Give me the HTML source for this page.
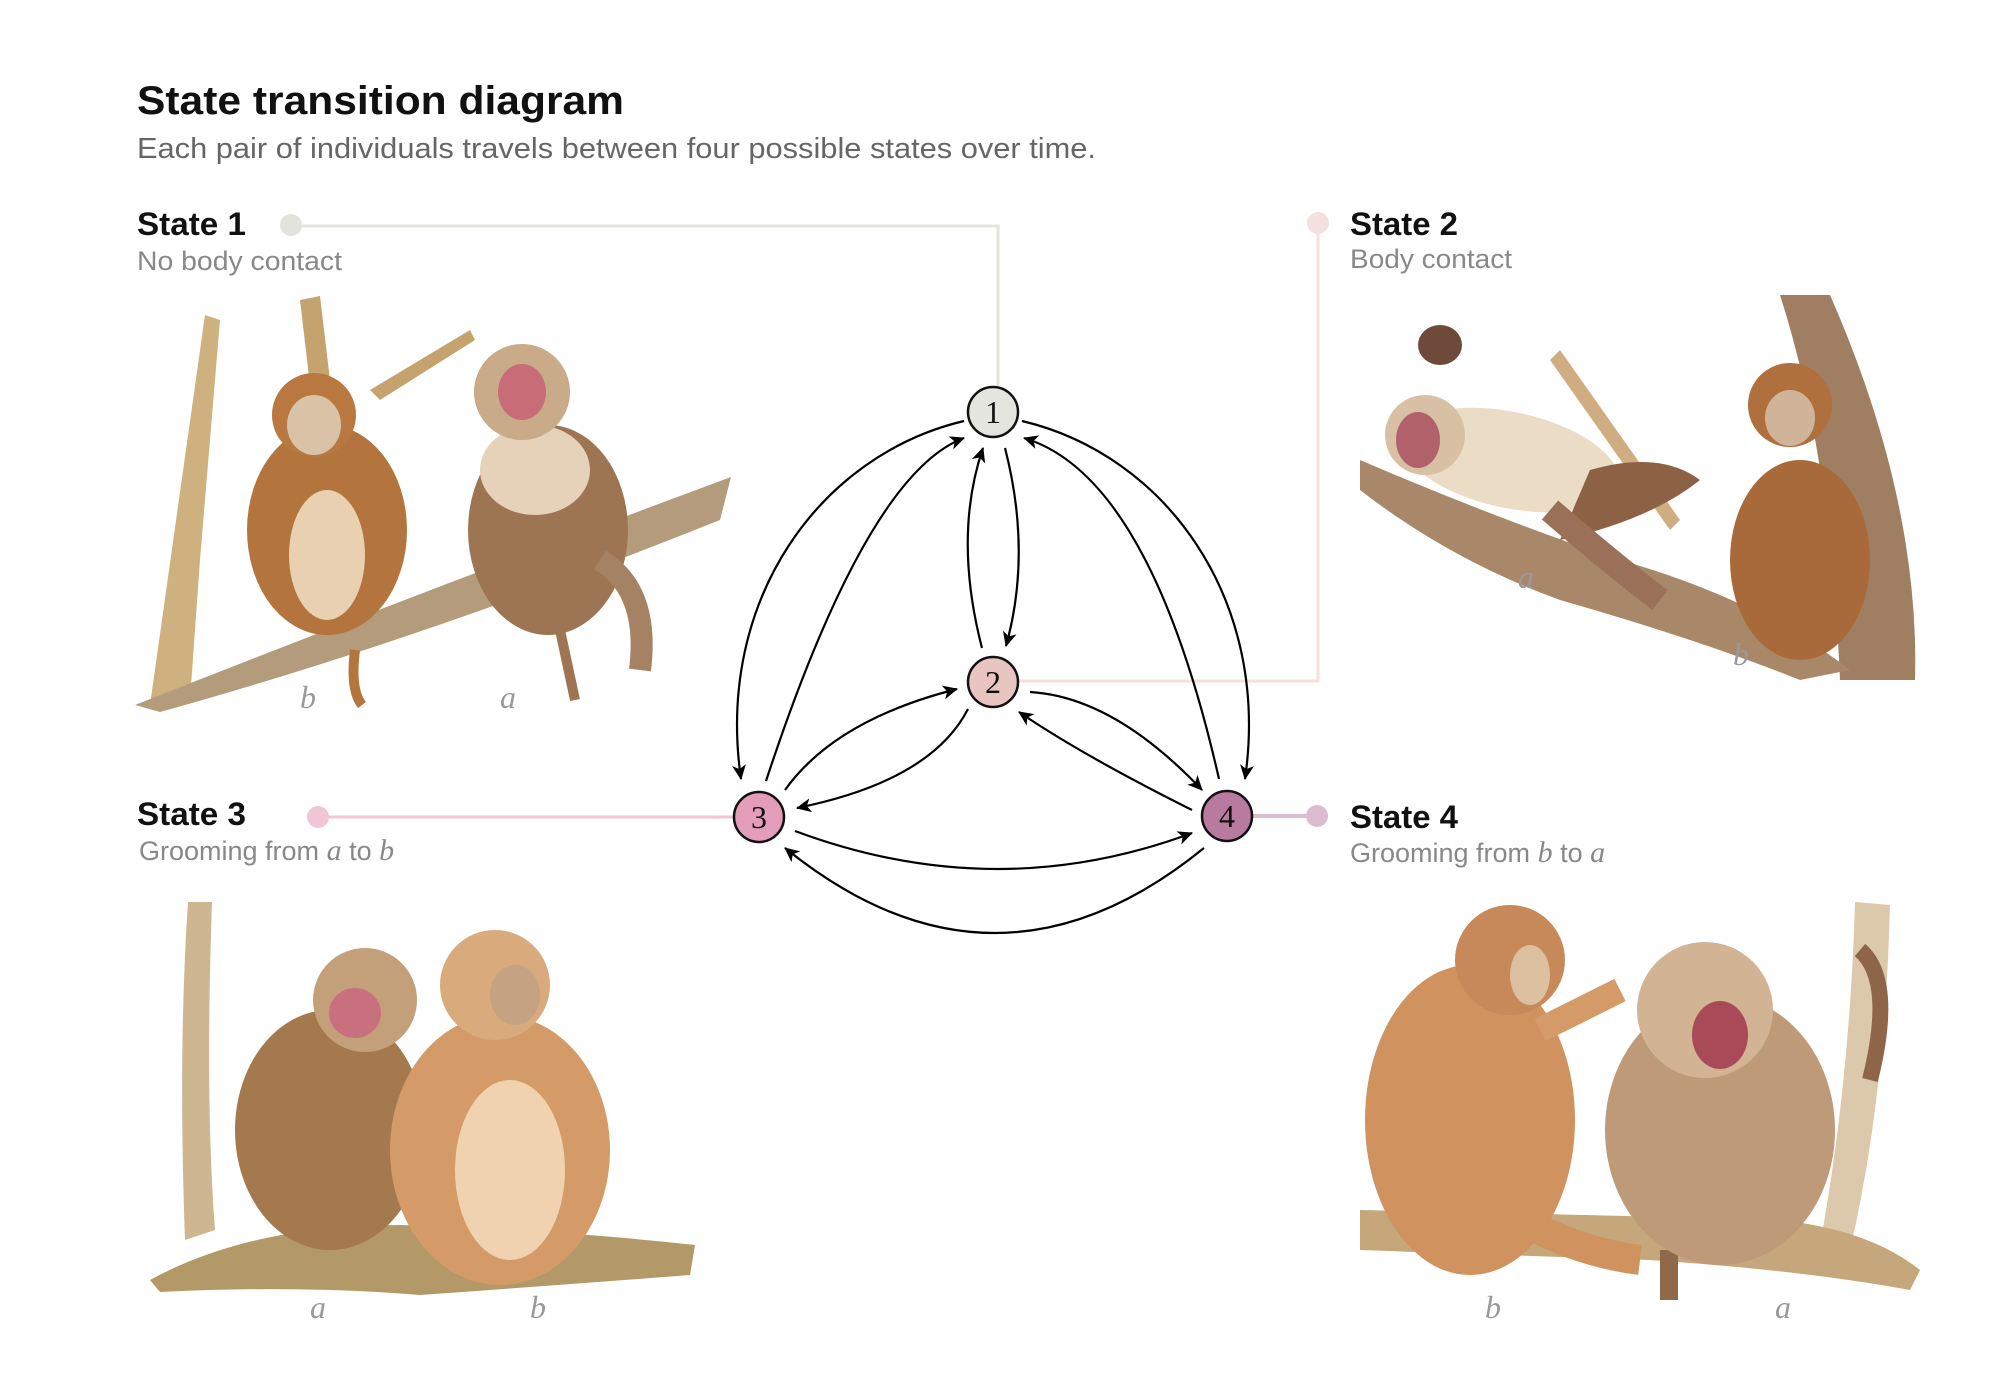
<!DOCTYPE html>
<html><head><meta charset="utf-8"><style>
html,body{margin:0;padding:0;background:#fff;}
svg{display:block;}
.t{font-family:"Liberation Sans",sans-serif;}
</style></head><body>
<svg width="2000" height="1387" viewBox="0 0 2000 1387" xmlns="http://www.w3.org/2000/svg">
<defs>
<marker id="ar" markerUnits="userSpaceOnUse" markerWidth="20" markerHeight="16" refX="14" refY="7" orient="auto">
<path d="M0,0 L15,7 L0,14 L4,7 z" fill="#000"/>
</marker>
</defs>
<rect width="2000" height="1387" fill="#fff"/>

<text class="t" x="137" y="114" font-size="40" font-weight="bold" fill="#111" textLength="487" lengthAdjust="spacingAndGlyphs">State transition diagram</text>
<text class="t" x="137" y="158" font-size="29" fill="#666" textLength="959" lengthAdjust="spacingAndGlyphs">Each pair of individuals travels between four possible states over time.</text>

<text class="t" x="137" y="235" font-size="32" font-weight="bold" fill="#111" textLength="109" lengthAdjust="spacingAndGlyphs">State 1</text>
<text class="t" x="137" y="270" font-size="27" fill="#888" textLength="205" lengthAdjust="spacingAndGlyphs">No body contact</text>
<text class="t" x="1350" y="235" font-size="32" font-weight="bold" fill="#111" textLength="108" lengthAdjust="spacingAndGlyphs">State 2</text>
<text class="t" x="1350" y="268" font-size="27" fill="#888" textLength="162" lengthAdjust="spacingAndGlyphs">Body contact</text>
<text class="t" x="137" y="825" font-size="32" font-weight="bold" fill="#111" textLength="109" lengthAdjust="spacingAndGlyphs">State 3</text>
<text class="t" x="139" y="860" font-size="27" fill="#888">Grooming from <tspan font-family="Liberation Serif,serif" font-style="italic" font-size="30">a</tspan> to <tspan font-family="Liberation Serif,serif" font-style="italic" font-size="30">b</tspan></text>
<text class="t" x="1350" y="828" font-size="32" font-weight="bold" fill="#111" textLength="108" lengthAdjust="spacingAndGlyphs">State 4</text>
<text class="t" x="1350" y="862" font-size="27" fill="#888">Grooming from <tspan font-family="Liberation Serif,serif" font-style="italic" font-size="30">b</tspan> to <tspan font-family="Liberation Serif,serif" font-style="italic" font-size="30">a</tspan></text>

<polyline points="291,226 998,226 998,386" fill="none" stroke="#e3e3dd" stroke-width="3"/>
<circle cx="291" cy="225" r="11" fill="#e3e3dd"/>
<polyline points="1318,223 1318,681 1019,681" fill="none" stroke="#f4e0df" stroke-width="3"/>
<circle cx="1318" cy="223" r="11" fill="#f4e0df"/>
<line x1="318" y1="817" x2="735" y2="817" stroke="#f0c6d6" stroke-width="3"/>
<circle cx="318" cy="817" r="11" fill="#f0c6d6"/>
<line x1="1253" y1="816" x2="1317" y2="816" stroke="#dcbcd0" stroke-width="4"/>
<circle cx="1317" cy="816" r="11" fill="#dcbcd0"/>

<g>
<path d="M205,315 L220,320 L200,560 L190,700 L150,705 Z" fill="#c9a870" opacity="0.9"/>
<path d="M135,705 Q400,600 731,477 L720,520 Q420,640 160,712 Z" fill="#b39b7c"/>
<path d="M300,300 L320,296 L330,380 L310,385 Z" fill="#c5a36e"/>
<path d="M370,390 L470,330 L475,340 L380,400 Z" fill="#c5a36e"/>
<ellipse cx="327" cy="530" rx="80" ry="105" fill="#b3743e"/>
<ellipse cx="327" cy="555" rx="38" ry="65" fill="#e9d0b0"/>
<circle cx="314" cy="415" r="42" fill="#b8783f"/>
<ellipse cx="314" cy="425" rx="27" ry="30" fill="#d9c2a6"/>
<path d="M355,650 Q350,690 362,705" stroke="#b5763e" stroke-width="10" fill="none"/>
<ellipse cx="548" cy="530" rx="80" ry="105" fill="#9d7552"/>
<ellipse cx="535" cy="470" rx="55" ry="45" fill="#e6d2b8"/>
<circle cx="522" cy="392" r="48" fill="#c9ab8a"/>
<ellipse cx="522" cy="392" rx="24" ry="28" fill="#c86d78"/>
<path d="M600,560 Q650,590 640,670" stroke="#a68264" stroke-width="22" fill="none"/>
<path d="M560,630 L575,700" stroke="#9d7552" stroke-width="10"/>
<text x="300" y="708" font-family="Liberation Serif,serif" font-style="italic" font-size="32" fill="#999">b</text>
<text x="500" y="708" font-family="Liberation Serif,serif" font-style="italic" font-size="32" fill="#999">a</text>
</g>

<g>
<path d="M1780,295 L1830,295 Q1920,500 1915,680 L1840,680 Q1830,450 1780,295 Z" fill="#a07e62"/>
<path d="M1360,460 Q1500,520 1620,560 Q1760,600 1850,670 L1800,680 Q1700,640 1560,600 Q1450,560 1360,490 Z" fill="#a88868"/>
<path d="M1560,350 L1680,520 L1670,530 L1550,360 Z" fill="#d0ad80"/>
<ellipse cx="1510" cy="460" rx="110" ry="48" fill="#ebdcc6" transform="rotate(12 1510 460)"/>
<path d="M1590,470 Q1660,450 1700,480 Q1650,520 1560,540 Z" fill="#8d6244"/>
<path d="M1550,510 Q1620,570 1660,600" stroke="#9a7058" stroke-width="25" fill="none"/>
<circle cx="1425" cy="435" r="40" fill="#d8c0a4"/>
<ellipse cx="1418" cy="440" rx="22" ry="28" fill="#b0616a"/>
<ellipse cx="1440" cy="345" rx="22" ry="20" fill="#6e4a3a"/>
<ellipse cx="1800" cy="560" rx="70" ry="100" fill="#a86a3a"/>
<circle cx="1790" cy="405" r="42" fill="#b0703e"/>
<ellipse cx="1790" cy="418" rx="25" ry="28" fill="#d0b49a"/>
<text x="1518" y="588" font-family="Liberation Serif,serif" font-style="italic" font-size="32" fill="#999">a</text>
<text x="1733" y="665" font-family="Liberation Serif,serif" font-style="italic" font-size="32" fill="#999">b</text>
</g>

<g>
<path d="M188,902 L212,902 Q205,1100 215,1230 L185,1240 Q178,1050 188,902 Z" fill="#cdb690"/>
<path d="M150,1280 Q250,1225 400,1225 Q560,1230 695,1245 L690,1275 Q560,1285 420,1295 Q300,1285 160,1292 Z" fill="#b39868"/>
<ellipse cx="330" cy="1130" rx="95" ry="120" fill="#a4794e"/>
<circle cx="365" cy="1000" r="52" fill="#c4a07a"/>
<ellipse cx="355" cy="1013" rx="26" ry="25" fill="#c8707e"/>
<ellipse cx="500" cy="1150" rx="110" ry="135" fill="#d49b68"/>
<ellipse cx="510" cy="1170" rx="55" ry="90" fill="#f0d2b0"/>
<circle cx="495" cy="985" r="55" fill="#d8aa7c"/>
<ellipse cx="515" cy="995" rx="25" ry="30" fill="#c4a282"/>
<text x="310" y="1318" font-family="Liberation Serif,serif" font-style="italic" font-size="32" fill="#999">a</text>
<text x="530" y="1318" font-family="Liberation Serif,serif" font-style="italic" font-size="32" fill="#999">b</text>
</g>

<g>
<path d="M1855,902 L1890,905 Q1885,1100 1850,1250 L1820,1245 Q1850,1080 1855,902 Z" fill="#dcc8aa"/>
<path d="M1360,1210 Q1600,1215 1780,1220 Q1870,1230 1920,1270 L1910,1290 Q1800,1270 1650,1260 Q1500,1255 1360,1250 Z" fill="#c6a77c"/>
<rect x="1660" y="1250" width="18" height="50" fill="#8f6a4a"/>
<ellipse cx="1470" cy="1120" rx="105" ry="155" fill="#d0935f"/>
<circle cx="1510" cy="960" r="55" fill="#c8895a"/>
<ellipse cx="1530" cy="975" rx="20" ry="30" fill="#dcc0a0"/>
<path d="M1540,1030 Q1600,1000 1620,990" stroke="#d49a68" stroke-width="25" fill="none"/>
<path d="M1490,1200 Q1560,1250 1640,1260" stroke="#d0935f" stroke-width="30" fill="none"/>
<ellipse cx="1720" cy="1130" rx="115" ry="135" fill="#bf9a78"/>
<circle cx="1705" cy="1010" r="68" fill="#d2b494"/>
<ellipse cx="1720" cy="1035" rx="28" ry="34" fill="#a84a58"/>
<path d="M1860,950 Q1895,980 1870,1080" stroke="#8e6548" stroke-width="16" fill="none"/>
<text x="1485" y="1318" font-family="Liberation Serif,serif" font-style="italic" font-size="32" fill="#999">b</text>
<text x="1775" y="1318" font-family="Liberation Serif,serif" font-style="italic" font-size="32" fill="#999">a</text>
</g>

<g fill="none" stroke="#000" stroke-width="2.2" marker-end="url(#ar)">
<path d="M964,421 C820,455 715,600 741,779"/>
<path d="M766,781 Q867,474 964,438"/>
<path d="M1005,448 Q1032,553 1006,646"/>
<path d="M982,648 Q953,536 983,448"/>
<path d="M1022,421 C1166,455 1271,600 1245,779"/>
<path d="M1219,779 Q1150,476 1024,438"/>
<path d="M1030,692 Q1114,697 1202,790"/>
<path d="M1192,810 Q1082,755 1019,712"/>
<path d="M785,790 Q835,720 957,689"/>
<path d="M968,709 Q931,781 797,808"/>
<path d="M795,831 Q996,906 1192,833"/>
<path d="M1204,848 Q995,1018 785,848"/>
</g>

<g stroke="#111" stroke-width="2.5">
<circle cx="993" cy="412" r="25" fill="#e4e5df"/>
<circle cx="993" cy="682" r="25" fill="#e9c5c1"/>
<circle cx="759" cy="817" r="25" fill="#e39cba"/>
<circle cx="1227" cy="816" r="25" fill="#b87a9e"/>
</g>
<g font-family="Liberation Serif,serif" font-size="32" text-anchor="middle" fill="#111">
<text x="993" y="423">1</text>
<text x="993" y="693">2</text>
<text x="759" y="828">3</text>
<text x="1227" y="827">4</text>
</g>
</svg>
</body></html>
